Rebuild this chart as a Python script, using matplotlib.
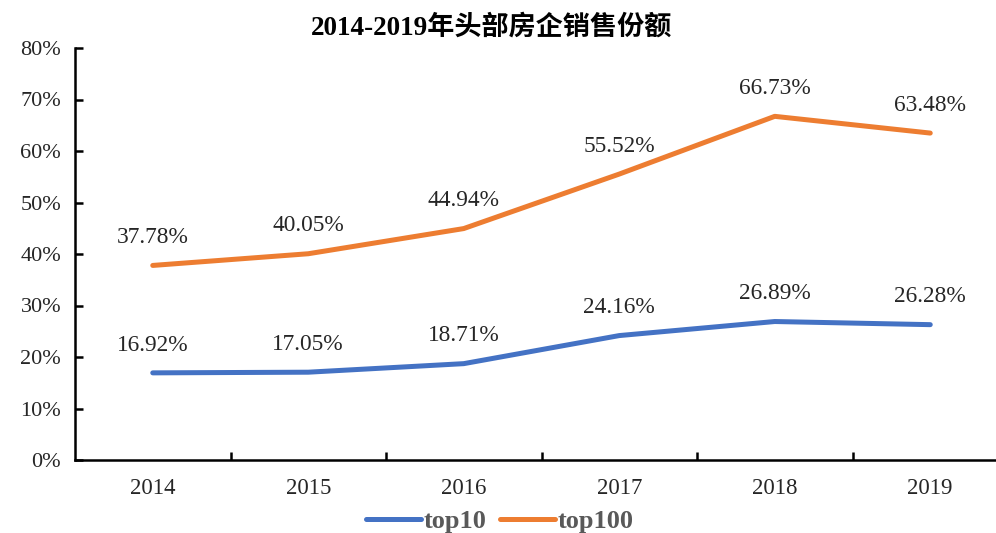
import matplotlib
matplotlib.use("Agg")
import matplotlib.pyplot as plt
from matplotlib.ticker import FixedLocator, PercentFormatter

years = ["2014", "2015", "2016", "2017", "2018", "2019"]
top10 = [16.92, 17.05, 18.71, 24.16, 26.89, 26.28]
top100 = [37.78, 40.05, 44.94, 55.52, 66.73, 63.48]
yticks = [0, 10, 20, 30, 40, 50, 60, 70, 80]

serif = ["Liberation Serif", "Noto Sans CJK SC", "DejaVu Serif"]
plt.rcParams["font.family"] = serif

fig = plt.figure(figsize=(9.96, 5.33), dpi=100)
ax = fig.add_axes([75 / 996, 73 / 533, (1008 - 75) / 996, (460 - 48) / 533])

x = list(range(len(years)))
ax.plot(x, top10, color="#4472C4", lw=3.6, solid_capstyle="round", label="top10")
ax.plot(x, top100, color="#ED7D31", lw=3.6, solid_capstyle="round", label="top100")

for xs, vals in ((x, top10), (x, top100)):
    for xi, v in zip(xs, vals):
        ax.annotate(f"{v:.2f}%", (xi, v), xytext=(0, 20), textcoords="offset points",
                    ha="center", va="center", fontsize=16.8, color="#262626")

ax.set_xlim(-0.5, len(years) - 0.5)
ax.set_ylim(0, 80)
ax.set_yticks(yticks)
ax.yaxis.set_major_formatter(PercentFormatter(decimals=0))
ax.set_xticks(x)
ax.set_xticklabels(years)
ax.xaxis.set_minor_locator(FixedLocator([i + 0.5 for i in range(len(years) - 1)]))
ax.tick_params(axis="x", which="major", length=0, pad=13, labelsize=16.5, labelcolor="#262626")
ax.tick_params(axis="x", which="minor", length=6, width=1.8, direction="in")
ax.tick_params(axis="y", length=6, width=1.8, direction="in", pad=10, labelsize=16, labelcolor="#262626")
for s in ("top", "right"):
    ax.spines[s].set_visible(False)
for s in ("left", "bottom"):
    ax.spines[s].set_linewidth(1.8)
    ax.spines[s].set_color("black")

fig.text(492 / 996, 1 - 28 / 533, "2014-2019年头部房企销售份额", ha="center", va="center",
         fontsize=19.5, fontweight="bold", family=serif, color="black")

leg = fig.legend(loc="center", bbox_to_anchor=(500 / 996, 1 - 521 / 533), ncol=2, frameon=False,
                 prop={"family": serif, "weight": "bold", "size": 19},
                 handlelength=2.1, handletextpad=0.1, columnspacing=0.5)
for t in leg.get_texts():
    t.set_color("#595959")

fig.savefig("out.png", dpi=100)
